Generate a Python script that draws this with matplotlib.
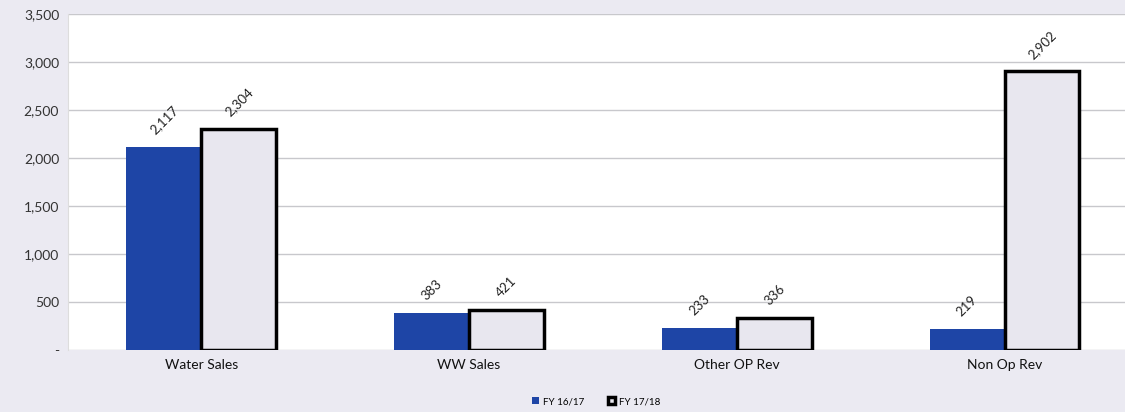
import numpy as np
import matplotlib.pyplot as plt

categories = ["Water Sales", "WW Sales", "Other OP Rev", "Non Op Rev"]
fy1617 = [2117, 383, 233, 219]
fy1718 = [2304, 421, 336, 2902]
yticks = [0, 500, 1000, 1500, 2000, 2500, 3000, 3500]
ytick_labels = ["-", "500", "1,000", "1,500", "2,000", "2,500", "3,000", "3,500"]

plt.rcParams['font.family'] = ['Lato', 'DejaVu Sans']

fig = plt.figure(figsize=(11.25, 4.12), dpi=100, facecolor='#ebeaf2')
ax = fig.add_axes([0.06, 0.15, 0.94, 0.816])
ax.set_facecolor('white')

x = np.arange(len(categories))
w = 0.28
b1 = ax.bar(x - w/2, fy1617, w, color='#1e45a6', label='FY 16/17', zorder=3)
b2 = ax.bar(x + w/2, fy1718, w, color='#e8e7ef', edgecolor='black', linewidth=2.5,
            label='FY 17/18', zorder=3)

for bars, vals in ((b1, fy1617), (b2, fy1718)):
    for r, v in zip(bars, vals):
        ax.text(r.get_x() + r.get_width()/2, v + 110, f"{v:,}", rotation=45,
                ha='center', va='bottom', fontsize=9.5, color='#222222')

ax.set_ylim(0, 3500)
ax.set_xlim(-0.5, 3.45)
ax.set_yticks(yticks)
ax.set_yticklabels(ytick_labels, fontsize=10, color='#333333')
ax.set_xticks(x)
ax.set_xticklabels(categories, fontsize=10, color='#111111')
ax.tick_params(axis='both', length=0, pad=6)
ax.grid(axis='y', color='#c8c8cc', linewidth=1, zorder=0)
for s in ['top', 'right', 'bottom']:
    ax.spines[s].set_visible(False)
ax.spines['left'].set_color('#dddddd')

fig.legend(handles=[b1, b2], labels=['FY 16/17', 'FY 17/18'], loc='center',
           bbox_to_anchor=(0.53, 0.025), ncol=2, frameon=False, fontsize=7,
           handlelength=0.7, handleheight=0.7, columnspacing=2.5, handletextpad=0.4)

fig.savefig('out.png', dpi=100, facecolor=fig.get_facecolor())
